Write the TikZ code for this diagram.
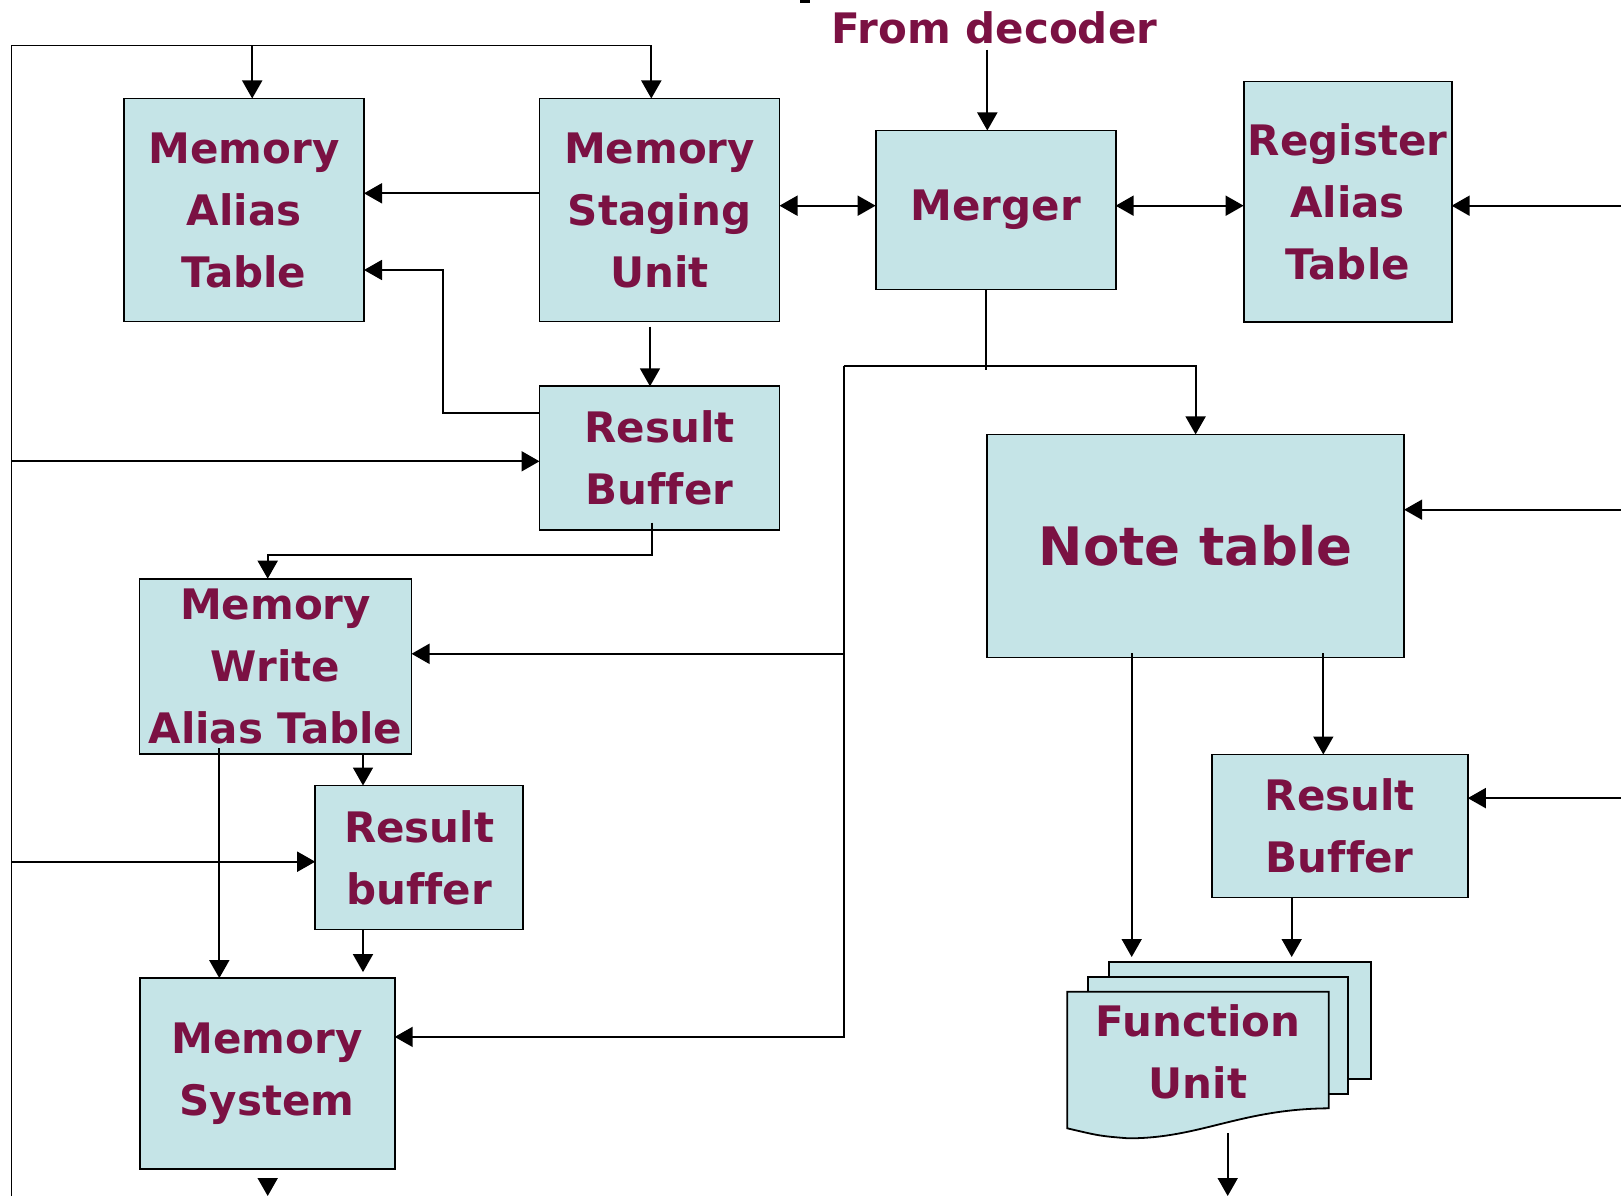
\documentclass[tikz,border=0pt]{standalone}
\usepackage{fontspec}
\setmainfont{DejaVu Sans}[Ligatures=NoCommon]
\usetikzlibrary{arrows.meta,calc}

\definecolor{boxfill}{HTML}{C5E4E7}
\definecolor{labelred}{HTML}{7B1143}

\tikzset{
  blk/.style={draw=black, line width=1.8pt, fill=boxfill, inner sep=0pt, outer sep=0pt,
              text=labelred, align=center, font=\fontsize{42}{62}\selectfont\bfseries},
  lbl/.style={text=labelred, align=center, inner sep=0pt, font=\fontsize{42}{62}\selectfont\bfseries},
  wire/.style={line width=1.8pt},
  conn/.style={line width=1.8pt, -{Triangle[length=18pt,width=20pt]}},
  both/.style={line width=1.8pt, {Triangle[length=18pt,width=20pt]}-{Triangle[length=18pt,width=20pt]}},
  fudoc/.style={draw=black, line width=1.8pt, fill=boxfill, line join=miter},
}

\begin{document}
\begin{tikzpicture}[x=1pt,y=-1pt]
\useasboundingbox (0,0) rectangle (1621,1196);

% small mark at the top edge
\fill (800,0) rectangle (810,2.7);

% blocks
\node[blk, minimum width=240pt, minimum height=223pt] (mat)   at (244,210)      {Memory\\Alias\\Table};
\node[blk, minimum width=240pt, minimum height=223pt] (msu)   at (659.5,210)    {Memory\\Staging\\Unit};
\node[blk, minimum width=240pt, minimum height=159pt] (merger) at (995.6,210)   {Merger};
\node[blk, minimum width=208pt, minimum height=240pt] (rat)   at (1347.6,201.6) {Register\\Alias\\Table};
\node[blk, minimum width=240pt, minimum height=144pt] (rb1)   at (659.5,458.3)  {Result\\Buffer};
\node[blk, minimum width=272pt, minimum height=175pt] (mwat)  at (275.5,666.2)  {Memory\\Write\\Alias Table};
\node[blk, minimum width=417pt, minimum height=223pt, font=\fontsize{53}{62}\selectfont\bfseries] (nt) at (1195.6,545.9) {Note table};
\node[blk, minimum width=256pt, minimum height=143pt] (rb3)   at (1339.8,826)   {Result\\Buffer};
\node[blk, minimum width=208pt, minimum height=144pt] (rb2)   at (419.2,857.5)  {Result\\buffer};
\node[blk, minimum width=255pt, minimum height=191pt] (ms)    at (267.2,1073.6) {Memory\\System};

% stacked function units
\node[blk, minimum width=262pt, minimum height=117pt] (fuback) at (1240,1020.5) {};
\node[blk, minimum width=260pt, minimum height=117pt] (fumid)  at (1218.3,1035.4) {};
\draw[fudoc] (1067.3,991.7) -- (1328.7,991.7) -- (1328.7,1108.3)
  .. controls (1240,1109) and (1200,1138.5) .. (1128,1138.3)
  .. controls (1100,1136) .. (1067.3,1128.3) -- cycle;
\node[lbl] (fu) at (1198,1052) {Function\\Unit};

% input label
\node[lbl] (dec) at (994.5,28) {From decoder};

% bend points
\coordinate (tl) at (11.4,45.5);
\coordinate (bl) at (11.4,1196);
\coordinate (tr) at (651.3,45.5);
\coordinate (decin) at (987.3,49.6);
\coordinate (bus) at (843.6,365.7);

% feedback frame on the left
\draw[wire] (bl) -- (tl) -- (tr);
\draw[conn] (tl -| 252.2,0) -- (mat.north -| 252.2,0);
\draw[conn] (tr) -- (msu.north -| tr);
\draw[conn] (tl |- 0,461.3) -- (rb1.west |- 0,461.3);
\draw[conn] (tl |- 0,861.7) -- (rb2.west |- 0,861.7);

% upper row
\draw[conn] (decin) -- (merger.north -| decin);
\draw[conn] (msu.west |- 0,193.3) -- (mat.east |- 0,193.3);
\draw[both] (msu.east |- 0,205.7) -- (merger.west |- 0,205.7);
\draw[both] (merger.east |- 0,205.7) -- (rat.west |- 0,205.7);
\draw[conn] (1621,205.7) -- (rat.east |- 0,205.7);

% memory side
\draw[conn] (650,326.7) -- (rb1.north -| 650,0);
\draw[conn] (rb1.west |- 0,413.3) -| (443.3,270) -- (mat.east |- 0,270);
\draw[conn] (651.7,522.7) -- (651.7,555.1) -| (mwat.north -| 267.7,0);
\draw[conn] (219.3,748) -- (ms.north -| 219.3,0);
\draw[conn] (mwat.south -| 363,0) -- (rb2.north -| 363,0);
\draw[conn] (rb2.south -| 363,0) -- ($(ms.north -| 363,0)+(0,-6)$);
\draw[conn] (267.7,1178) -- (267.7,1196);

% merger output bus
\draw[wire] (merger.south -| 986,0) -- (986,370.1);
\draw[conn] (bus) -| (nt.north);
\draw[conn] (bus) -- (bus |- 0,1036.9) -- (ms.east |- 0,1036.9);
\draw[conn] (bus |- 0,653.8) -- (mwat.east |- 0,653.8);

% execution side
\draw[conn] (1621,509.7) -- (nt.east |- 0,509.7);
\draw[conn] (1621,798.1) -- (rb3.east |- 0,798.1);
\draw[conn] (1131.7,653.4) -- ($(fuback.north -| 1131.7,0)+(0,-5)$);
\draw[conn] (1323.3,653.4) -- (rb3.north -| 1323.3,0);
\draw[conn] (rb3.south -| 1291.7,0) -- ($(fuback.north -| 1291.7,0)+(0,-5)$);
\draw[conn] (1227.7,1133.3) -- (1227.7,1196);
\end{tikzpicture}
\end{document}
